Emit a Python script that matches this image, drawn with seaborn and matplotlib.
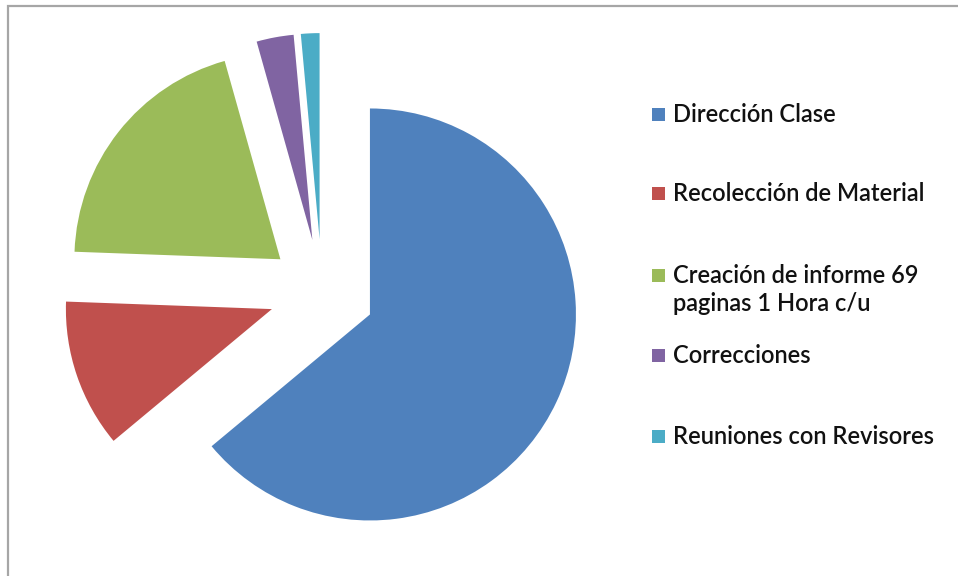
import matplotlib
matplotlib.use("Agg")
import matplotlib.pyplot as plt
from matplotlib.patches import Rectangle
import seaborn as sns

# ---- data ----
categories = [
    "Dirección Clase",
    "Recolección de Material",
    "Creación de informe 69\npaginas 1 Hora c/u",
    "Correcciones",
    "Reuniones con Revisores",
]
hours = [220, 40, 69, 10, 5]
colors = ["#4F81BD", "#C0504D", "#9BBB59", "#8064A2", "#4BACC6"]

# ---- style ----
sns.set_theme(style="white")
plt.rcParams["font.family"] = ["Lato", "DejaVu Sans"]

W, H = 958, 576
fig = plt.figure(figsize=(W / 100, H / 100), dpi=100)
fig.patch.set_facecolor("white")
ax = fig.add_axes([0, 0, 1, 1])

palette = sns.color_palette(colors)
ax.pie(
    hours,
    colors=palette,
    startangle=90,
    counterclock=False,
    explode=[0.257] * len(hours),
    radius=1.0,
    wedgeprops=dict(linewidth=0),
)

# pie center at (322, 292) px from top-left, radius 206 px
R = 206.0
cx, cy = 322.0, 292.0
ax.set_xlim(-cx / R, (W - cx) / R)
ax.set_ylim(-(H - cy) / R, cy / R)
ax.set_aspect("auto")
ax.axis("off")


def fx(px):
    return px / W


def fy(py):
    return 1 - py / H


# ---- legend (manual layout to match reference spacing) ----
baselines = [122, 201, 283, 363, 444]
line_pitch = 28
for lab, col, base in zip(categories, palette, baselines):
    fig.patches.append(
        Rectangle((fx(652), fy(base - 1)), 13 / W, 13 / H,
                  transform=fig.transFigure, facecolor=col, edgecolor="none")
    )
    for i, line in enumerate(lab.split("\n")):
        fig.text(fx(673), fy(base + i * line_pitch), line, fontsize=17,
                 fontweight="semibold", va="baseline", ha="left",
                 color="#111111")

# ---- chart border (cropped at right and bottom) ----
fig.patches.append(
    Rectangle((fx(7.5), -0.1), 1.2, fy(5.5) + 0.1, transform=fig.transFigure,
              fill=False, edgecolor="#a6a6a6", linewidth=1.6)
)

fig.savefig("out.png", dpi=100, facecolor="white")
